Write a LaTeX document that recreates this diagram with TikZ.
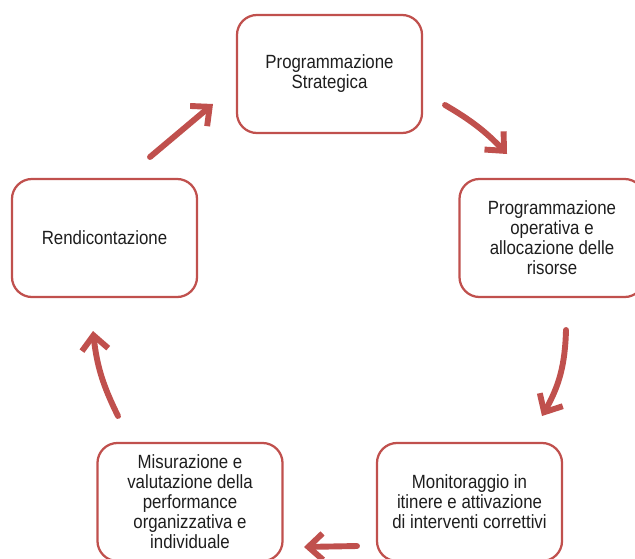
\documentclass[tikz,border=0pt]{standalone}
\usepackage{fontspec}
\setmainfont{Liberation Sans}[FakeStretch=0.88]
\usepackage{xcolor}
\usetikzlibrary{arrows.meta}
\definecolor{cicloRed}{RGB}{192,80,77}
\definecolor{testoGray}{RGB}{30,30,30}

\begin{document}
\begin{tikzpicture}[x=0.025cm,y=-0.025cm,
  fase/.style={draw=cicloRed,line width=1.6pt,rounded corners=0.5cm,fill=white,
    minimum width=4.625cm,minimum height=2.95cm,inner sep=0pt,align=center,
    font=\fontsize{13.6}{14.2}\selectfont,text=testoGray},
  freccia/.style={draw=cicloRed,line width=4.2pt,line cap=round,
    -{Straight Barb[length=3.6mm,width=6.6mm]}}]
\clip (0,0) rectangle (635,558);
% Fasi del ciclo della performance
\node[fase] (strat) at (329.5,74) {Programmazione\\Strategica};
\node[fase] (oper) at (552,238) {Programmazione\\operativa e\\allocazione delle\\risorse};
\node[fase] (monit) at (469.5,502) {Monitoraggio in\\itinere e attivazione\\di interventi correttivi};
\node[fase] (misura) at (190,502) {Misurazione e\\valutazione della\\performance\\organizzativa e\\individuale};
\node[fase] (rendi) at (104.5,238) {Rendicontazione};

% Frecce tra le fasi
\coordinate (rendiOut) at (150,157);
\coordinate (stratIn) at (213,104);
\coordinate (stratOut) at (445,105);
\coordinate (operIn) at (507,154);
\coordinate (operOut) at (566,330);
\coordinate (monitIn) at (542,416);
\coordinate (monitOut) at (357,546);
\coordinate (misuraIn) at (304,547);
\coordinate (misuraOut) at (118,416);
\coordinate (rendiIn) at (93,331);

\draw[freccia] (rendiOut) -- (stratIn);
\draw[freccia] (stratOut) to[bend left=8] (operIn);
\draw[freccia] (operOut) to[bend left=14] (monitIn);
\draw[freccia] (monitOut) -- (misuraIn);
\draw[freccia] (misuraOut) to[bend left=10] (rendiIn);
\end{tikzpicture}
\end{document}
